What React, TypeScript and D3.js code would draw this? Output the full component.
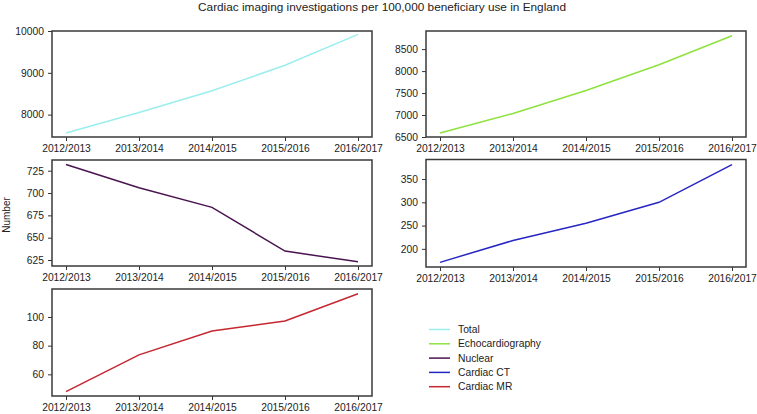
import * as d3 from 'd3';
import React, { useEffect, useRef } from 'react';

const years = ['2012/2013', '2013/2014', '2014/2015', '2015/2016', '2016/2017'];
const total = [7560, 8050, 8570, 9180, 9920];
const echo = [6590, 7035, 7560, 8145, 8805];
const nuclear = [732, 706, 684, 635, 623];
const cardiacCT = [171, 218, 255, 300, 381];
const cardiacMR = [47.9, 73.6, 90.2, 97.2, 116.2];

const totalTicks = [8000, 9000, 10000];
const echoTicks = [6500, 7000, 7500, 8000, 8500];
const nuclearTicks = [625, 650, 675, 700, 725];
const ctTicks = [200, 250, 300, 350];
const mrTicks = [60, 80, 100];

const seriesNames = ['Total', 'Echocardiography', 'Nuclear', 'Cardiac CT', 'Cardiac MR'];
const seriesColors = ['#9beeee', '#8de23e', '#4a1450', '#2626c2', '#c62630'];

const FONT = '"Liberation Sans", Arial, Helvetica, sans-serif';

export default () => {
    const ref = useRef<any>();

    useEffect(() => {
        const svg = d3.select<any, any>(ref.current);
        svg.selectAll('*').remove();

        const panels = [
            { values: total, ticks: totalTicks, domain: [7465, 10000], x0: 52, x1: 372, y0: 31, y1: 137 },
            { values: echo, ticks: echoTicks, domain: [6500, 8912], x0: 426, x1: 746, y0: 31, y1: 137 },
            { values: nuclear, ticks: nuclearTicks, domain: [618.3, 737], x0: 52, x1: 372, y0: 160, y1: 266 },
            { values: cardiacCT, ticks: ctTicks, domain: [161, 392], x0: 426, x1: 746, y0: 159.5, y1: 267 },
            { values: cardiacMR, ticks: mrTicks, domain: [44.9, 119.5], x0: 52, x1: 372, y0: 289, y1: 396 },
        ];

        svg.append('text')
            .attr('x', 382)
            .attr('y', 11)
            .attr('text-anchor', 'middle')
            .attr('font-family', FONT)
            .attr('font-size', 11.8)
            .attr('fill', '#222')
            .text('Cardiac imaging investigations per 100,000 beneficiary use in England');

        svg.append('text')
            .attr('transform', 'translate(10,215) rotate(-90)')
            .attr('text-anchor', 'middle')
            .attr('font-family', FONT)
            .attr('font-size', 10)
            .attr('fill', '#222')
            .text('Number');

        panels.forEach((p, i) => {
            const x = d3.scalePoint<string>().domain(years).range([p.x0 + 14, p.x1 - 14]);
            const y = d3.scaleLinear().domain(p.domain).range([p.y1, p.y0]);
            const g = svg.append('g');

            const xAxis = g.append('g')
                .attr('transform', `translate(0,${p.y1})`)
                .call(d3.axisBottom(x).tickSize(4).tickSizeOuter(0).tickPadding(4));
            const yAxis = g.append('g')
                .attr('transform', `translate(${p.x0},0)`)
                .call(d3.axisLeft(y).tickValues(p.ticks).tickFormat(d3.format('d')).tickSize(4).tickSizeOuter(0).tickPadding(4));

            [xAxis, yAxis].forEach((a) => {
                a.select('.domain').remove();
                a.selectAll('line').attr('stroke', '#333').attr('stroke-width', 1);
                a.selectAll('text')
                    .attr('font-family', FONT)
                    .attr('font-size', 10.3)
                    .attr('fill', '#222');
            });

            g.append('path')
                .datum(p.values)
                .attr('fill', 'none')
                .attr('stroke', seriesColors[i])
                .attr('stroke-width', 1.5)
                .attr('d', d3.line<number>()
                    .x((d, j) => x(years[j]) as number)
                    .y((d) => y(d)));

            g.append('rect')
                .attr('x', p.x0)
                .attr('y', p.y0)
                .attr('width', p.x1 - p.x0)
                .attr('height', p.y1 - p.y0)
                .attr('fill', 'none')
                .attr('stroke', '#3a3a3a')
                .attr('stroke-width', 1.5);
        });

        const legend = svg.append('g');
        seriesNames.forEach((name, i) => {
            const ly = 329.5 + i * 14.3;
            legend.append('line')
                .attr('x1', 429).attr('x2', 450)
                .attr('y1', ly).attr('y2', ly)
                .attr('stroke', seriesColors[i])
                .attr('stroke-width', 1.5);
            legend.append('text')
                .attr('x', 458)
                .attr('y', ly)
                .attr('dy', '0.35em')
                .attr('font-family', FONT)
                .attr('font-size', 10.3)
                .attr('fill', '#222')
                .text(name);
        });
    });

    return (
        <svg ref={ref} width={757} height={414}
            style={{ position: 'absolute', left: 0, top: 0, background: '#fff' }}></svg>
    );
};
